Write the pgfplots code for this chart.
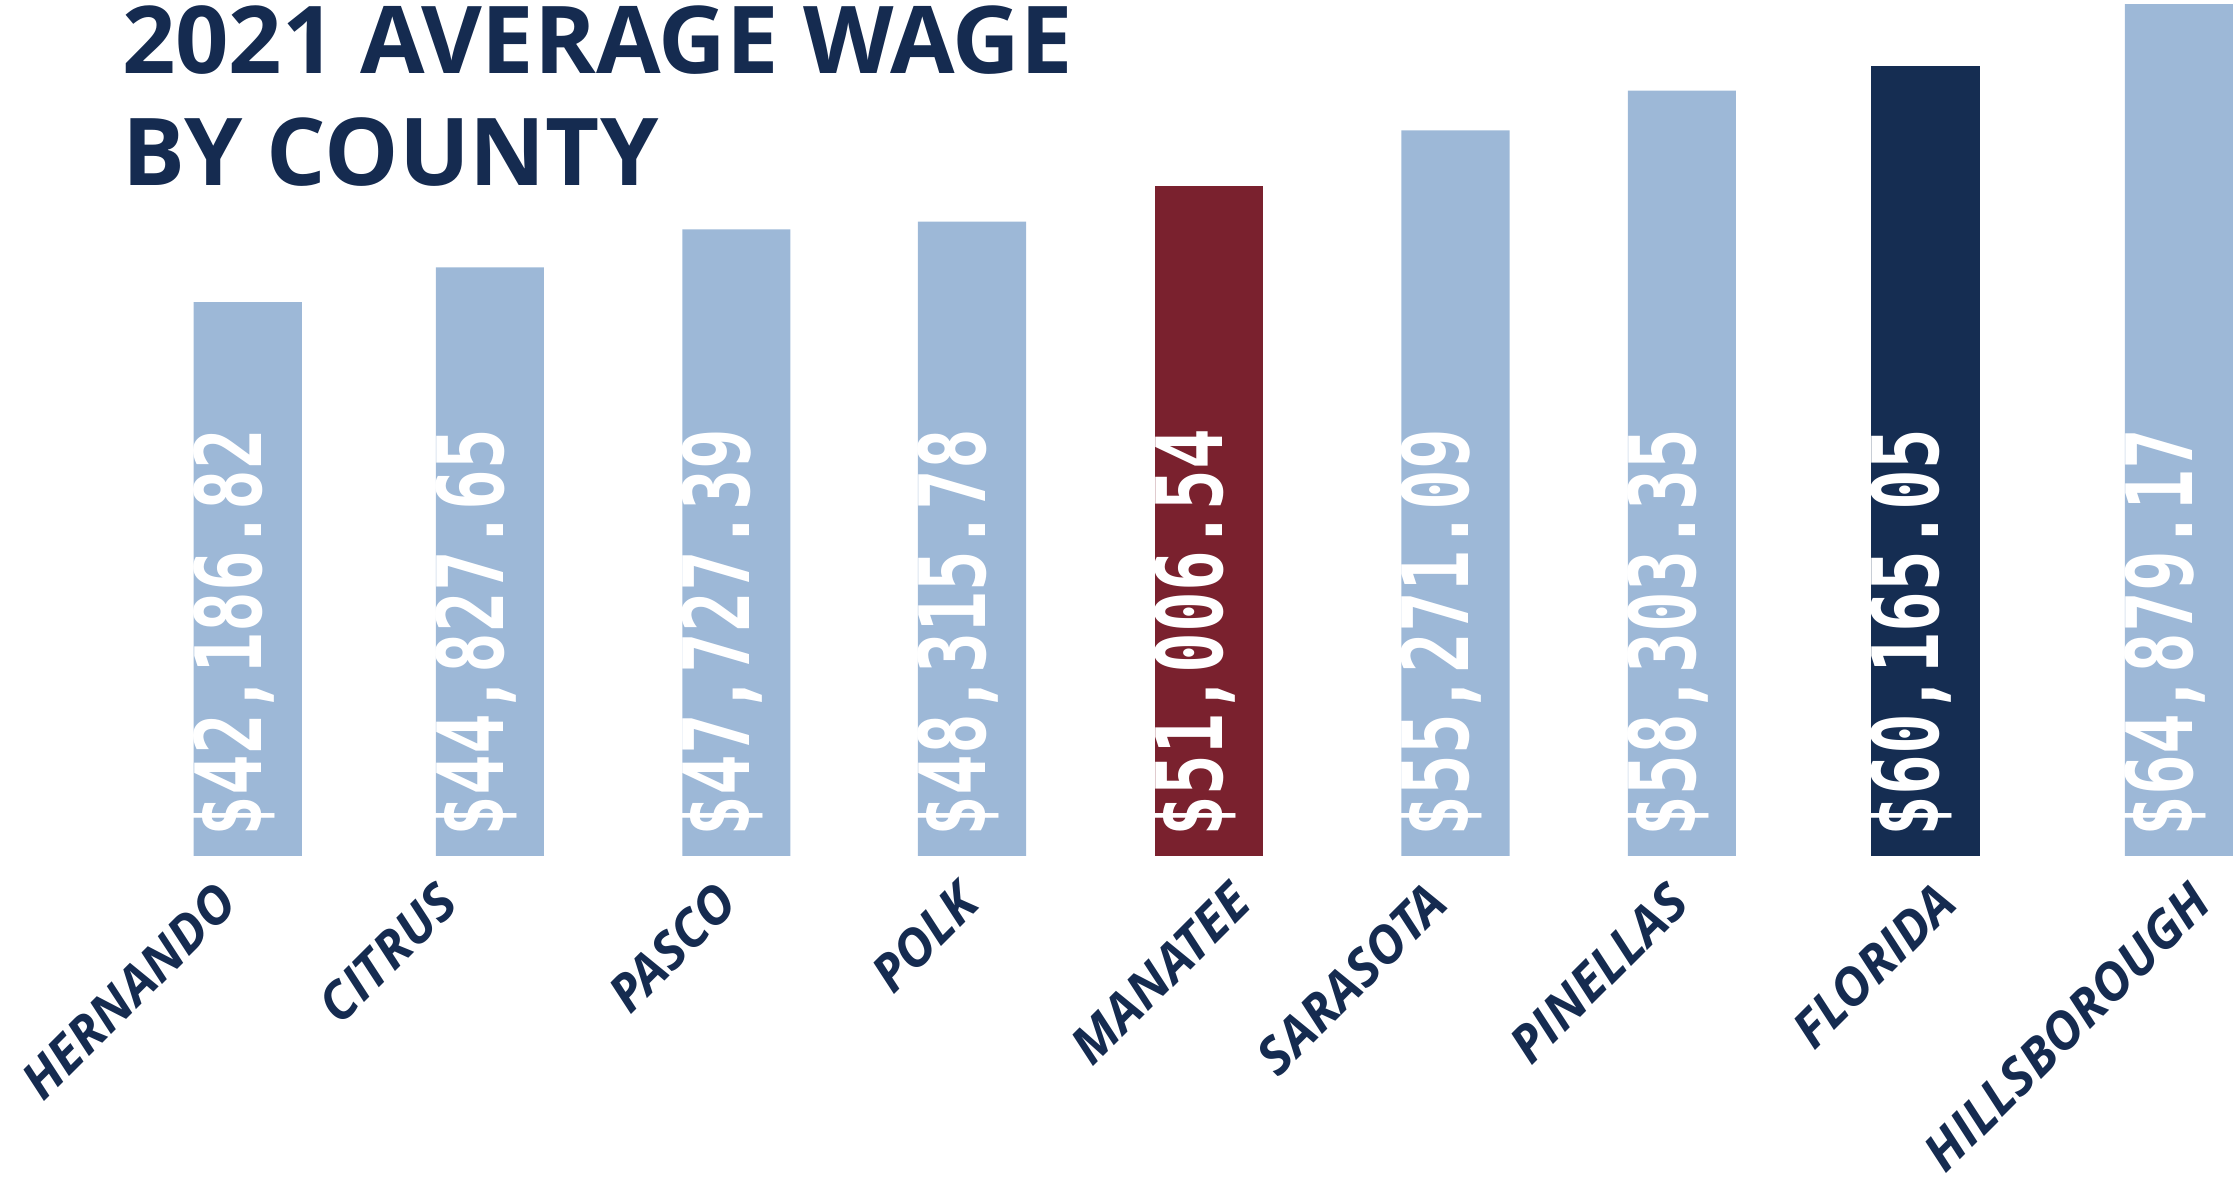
\documentclass[border=0pt]{standalone}
\usepackage{fontspec}
\usepackage{pgfplots}
\pgfplotsset{compat=1.18}
\setmainfont{Open Sans}
\newfontfamily\valfont{DejaVu Sans Mono}[FakeStretch=0.74]
\definecolor{navy}{HTML}{152B50}
\definecolor{lightbar}{HTML}{9DB8D7}
\definecolor{redbar}{HTML}{7A212E}
\definecolor{darkbar}{HTML}{152D52}
\begin{document}
\begin{tikzpicture}
\useasboundingbox (0,-2.29) rectangle (15.68,6.01);
\begin{axis}[
    at={(0,0)}, anchor=south west,
    width=15.68cm, height=6.01cm,
    scale only axis,
    xmin=-1.0265, xmax=8.224,
    ymin=0, ymax=65200,
    clip=false,
    axis line style={draw=none},
    tick style={draw=none},
    ytick=\empty,
    % label positions as they sit in the original, not quite under each bar
    xtick={-0.083,0.832,1.988,2.991,4.118,4.932,5.929,7.038,8.094},
    xticklabels={HERNANDO,CITRUS,PASCO,POLK,MANATEE,SARASOTA,PINELLAS,FLORIDA,HILLSBOROUGH},
    xticklabel style={rotate=45, anchor=east, inner sep=0pt,
        font=\fontsize{10.3}{12}\selectfont\bfseries\itshape, text=navy},
    xticklabel shift=7.3pt,
]
\addplot[ybar, bar width=0.448, bar shift=0pt, fill=lightbar, draw=none] coordinates {
    (0,42186.82) (1.003,44827.65) (2.024,47727.39) (3.000,48315.78)
    (5.003,55271.09) (5.941,58303.35) (8,64879.17)
};
\addplot[ybar, bar width=0.448, bar shift=0pt, fill=redbar, draw=none] coordinates {
    (3.982,51006.54)
};
\addplot[ybar, bar width=0.448, bar shift=0pt, fill=darkbar, draw=none] coordinates {
    (6.950,60165.05)
};
% value labels, set at the foot of each bar
\addplot[draw=none, mark=none, nodes near coords, point meta=explicit symbolic,
    nodes near coords style={rotate=90, anchor=mid west, inner sep=0pt,
        text=white, font=\valfont\bfseries\fontsize{18.3}{20}\selectfont}]
coordinates {
    (0,1400) [\$42,186.82]
    (1.003,1400) [\$44,827.65]
    (2.024,1400) [\$47,727.39]
    (3.000,1400) [\$48,315.78]
    (3.982,1400) [\$51,006.54]
    (5.003,1400) [\$55,271.09]
    (5.941,1400) [\$58,303.35]
    (6.950,1400) [\$60,165.05]
    (8,1400) [\$64,879.17]
};
\end{axis}
\node[anchor=base west, inner sep=0pt, text=navy,
    font=\fontsize{18.7}{22}\selectfont\bfseries]
    at (0.85,5.495) {2021 AVERAGE WAGE};
\node[anchor=base west, inner sep=0pt, text=navy,
    font=\fontsize{18.7}{22}\selectfont\bfseries]
    at (0.85,4.71) {BY COUNTY};
\end{tikzpicture}
\end{document}
